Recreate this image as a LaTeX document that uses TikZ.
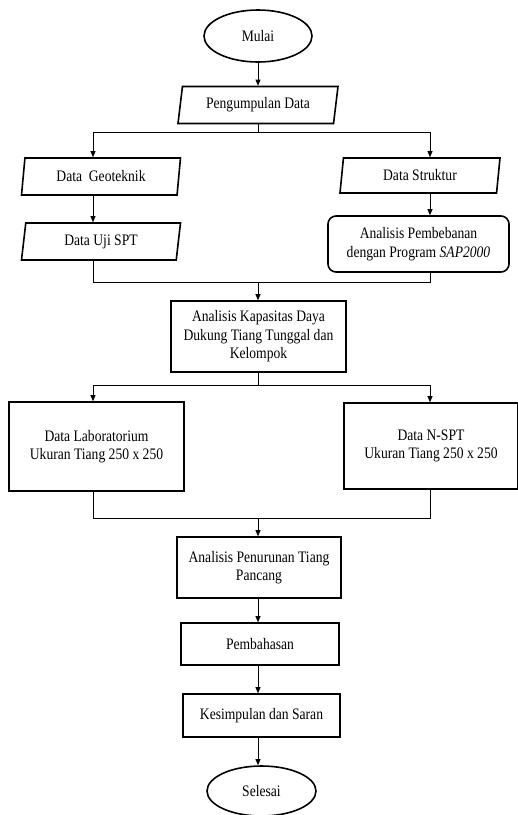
\documentclass[tikz,border=0pt]{standalone}
\usepackage{fontspec}
\setmainfont{Liberation Serif}[FakeStretch=0.85]
\usetikzlibrary{positioning,shapes.geometric,arrows.meta}
\tikzset{
    box/.style={draw, line width=1.6pt, rectangle, align=center, inner sep=0pt},
    roundbox/.style={box, rounded corners=8pt},
    terminal/.style={draw, line width=1.6pt, ellipse, inner sep=0pt},
    iobox/.style={draw, line width=1.6pt, trapezium, trapezium left angle=73,
        trapezium right angle=107, trapezium stretches body=true, inner sep=0pt},
    line/.style={draw, line width=0.7pt},
    arr/.style={line, -{Triangle[length=6pt,width=5pt]}}
}

\begin{document}
\begin{tikzpicture}[x=1pt,y=-1pt,font=\fontsize{16}{18.5}\selectfont]
\useasboundingbox (0,0) rectangle (518,815);

\node[terminal, minimum width=108pt, minimum height=52pt] (mulai) at (258,36) {Mulai};
\node[iobox, minimum width=160pt, minimum height=37pt] (pd) at (258,105) {Pengumpulan Data};
\node[iobox, minimum width=159pt, minimum height=37pt] (geo) at (101,176.5) {Data\ \ Geoteknik};
\node[iobox, minimum width=160pt, minimum height=35pt] (struk) at (420,175.5) {Data Struktur};
\node[iobox, minimum width=159pt, minimum height=37pt] (uji) at (101,241.5) {Data Uji SPT};
\node[roundbox, minimum width=181pt, minimum height=56pt] (beban) at (418.5,244)
    {Analisis Pembebanan\\dengan Program \textit{SAP2000}};
\node[box, minimum width=175pt, minimum height=71pt] (kap) at (258.5,336.5)
    {Analisis Kapasitas Daya\\Dukung Tiang Tunggal dan\\Kelompok};
\node[box, minimum width=175pt, minimum height=89pt] (lab) at (96.5,446.5)
    {Data Laboratorium\\Ukuran Tiang 250 x 250};
\node[box, minimum width=174pt, minimum height=86pt] (nspt) at (431,446)
    {Data N-SPT\\Ukuran Tiang 250 x 250};
\node[box, minimum width=164pt, minimum height=61pt] (turun) at (259,567.5)
    {Analisis Penurunan Tiang\\Pancang};
\node[box, minimum width=158pt, minimum height=42pt] (bahas) at (260,644) {Pembahasan};
\node[box, minimum width=157pt, minimum height=43pt] (simpul) at (261.5,715.5) {Kesimpulan dan Saran};
\node[terminal, minimum width=109pt, minimum height=50pt] (selesai) at (261.5,791) {Selesai};

% branch points
\coordinate (s1) at (258,132);
\coordinate (l1) at (93,132);
\coordinate (r1) at (430,132);
\coordinate (s2) at (258,282);
\coordinate (l2) at (93,282);
\coordinate (r2) at (430,282);
\coordinate (s3) at (258,385);
\coordinate (l3) at (93,385);
\coordinate (r3) at (430,385);
\coordinate (s4) at (258,518);
\coordinate (l4) at (93,518);
\coordinate (r4) at (430,518);

\draw[arr] (mulai) -- (pd);
\draw[line] (pd) -- (s1);
\draw[line] (l1) -- (r1);
\draw[arr] (l1) -- (l1 |- geo.north);
\draw[arr] (r1) -- (r1 |- struk.north);
\draw[arr] (geo.south -| l1) -- (uji.north -| l1);
\draw[arr] (struk.south -| r1) -- (beban.north -| r1);

\draw[line] (uji.south -| l2) -- (l2) -- (r2) -- (beban.south -| r2);
\draw[arr] (s2) -- (kap.north -| s2);

\draw[line] (kap.south -| s3) -- (s3);
\draw[line] (l3) -- (r3);
\draw[arr] (l3) -- (l3 |- lab.north);
\draw[arr] (r3) -- (r3 |- nspt.north);

\draw[line] (lab.south -| l4) -- (l4) -- (r4) -- (nspt.south -| r4);
\draw[arr] (s4) -- (turun.north -| s4);
\draw[arr] (turun.south -| s4) -- (bahas.north -| s4);
\draw[arr] (bahas.south -| s4) -- (simpul.north -| s4);
\draw[arr] (simpul.south -| s4) -- (selesai.north -| s4);
\end{tikzpicture}
\end{document}
